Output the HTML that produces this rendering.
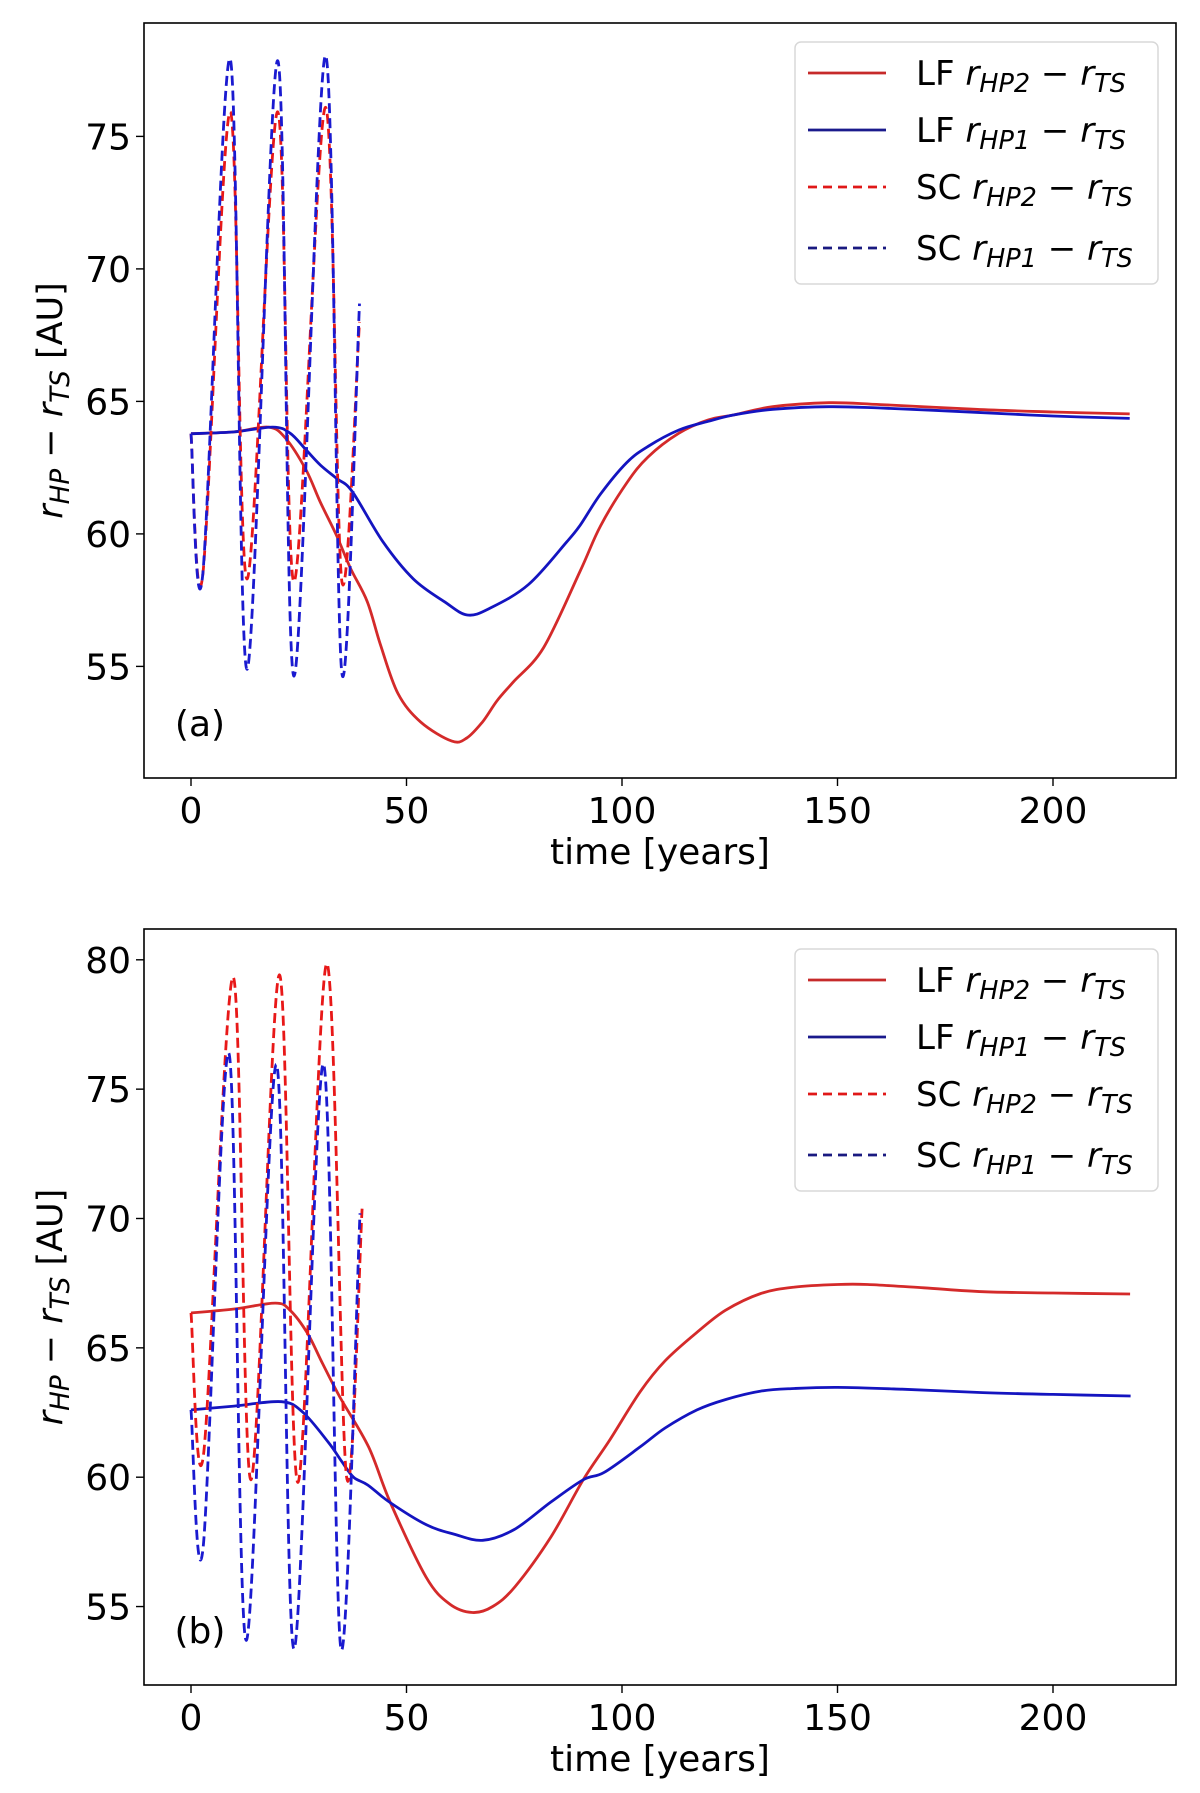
<!DOCTYPE html>
<html><head><meta charset="utf-8"><style>
html,body{margin:0;padding:0;background:#fff;}
svg{display:block;font-family:"DejaVu Sans","Liberation Sans",sans-serif;}
</style></head><body>
<svg id="fig" width="1200" height="1793" viewBox="0 0 1200 1793" xmlns="http://www.w3.org/2000/svg"></svg>
<script>
// ---- data (years, AU) ----
const xTicks = [0, 50, 100, 150, 200];
const yTicksA = [55, 60, 65, 70, 75];
const yTicksB = [55, 60, 65, 70, 75, 80];

const aLF2_t = [0, 10, 18, 22, 26.7, 30, 33.8, 37, 40.9, 44, 48, 53.3, 60.5, 64, 67.6, 71, 74.7, 81.8, 90.3, 95, 101.1, 106, 113.2, 120, 126, 135, 148, 160, 182, 200, 217.8];
const aLF2_v = [63.78, 63.85, 64.03, 63.6, 62.41, 61.2, 59.93, 58.7, 57.44, 55.8, 53.98, 52.9, 52.18, 52.3, 52.9, 53.7, 54.4, 55.71, 58.6, 60.3, 61.92, 62.9, 63.8, 64.3, 64.49, 64.8, 64.95, 64.88, 64.70, 64.6, 64.53];
const aLF1_t = [0, 10, 19, 23, 26.7, 30, 33.8, 37.4, 44.5, 51.6, 58.8, 64.1, 69.4, 78.3, 87.2, 90.3, 95, 101.1, 106, 113.2, 120, 126, 135, 148, 160, 182, 200, 217.8];
const aLF1_v = [63.78, 63.85, 64.03, 63.8, 63.17, 62.6, 62.09, 61.6, 59.71, 58.3, 57.44, 56.94, 57.2, 58.09, 59.7, 60.33, 61.5, 62.69, 63.3, 63.92, 64.25, 64.49, 64.7, 64.8, 64.75, 64.59, 64.45, 64.36];
const aSC2_t = [0, 2.7, 9.1, 13, 20.1, 23.9, 31.2, 35, 39.1];
const aSC2_v = [63.78, 58.4, 75.93, 58.3, 75.93, 58.2, 76.1, 58.2, 68.0];
const aSC1_t = [0, 2.7, 9.1, 13, 20.1, 23.9, 31.2, 35, 39.1];
const aSC1_v = [63.78, 58.41, 77.92, 54.89, 77.86, 54.63, 78.05, 54.74, 68.69];

const bLF2_t = [0, 10, 19.6, 23, 27, 30.5, 34.6, 41.2, 46.2, 54.5, 60, 65.3, 70, 75.2, 83.5, 91, 97, 104.2, 110, 117.4, 124, 132.2, 140, 150, 157, 170, 183.7, 200, 217.9];
const bLF2_v = [66.35, 66.5, 66.73, 66.45, 65.57, 64.4, 63.08, 61.17, 59.04, 56.15, 55.1, 54.77, 55.0, 55.77, 57.69, 59.9, 61.4, 63.3, 64.5, 65.6, 66.45, 67.1, 67.35, 67.45, 67.45, 67.32, 67.17, 67.12, 67.08];
const bLF1_t = [0, 10, 21, 26, 31.9, 35, 37.7, 41, 46, 54.5, 61, 67.7, 75, 83.5, 91, 95.9, 104.2, 110, 117.4, 124, 132.2, 140, 150, 165, 183.7, 200, 218];
const bLF1_v = [62.6, 62.75, 62.92, 62.5, 61.34, 60.6, 60.0, 59.7, 59.04, 58.17, 57.8, 57.56, 57.98, 59.04, 59.9, 60.19, 61.17, 61.9, 62.6, 63.0, 63.33, 63.43, 63.47, 63.4, 63.27, 63.2, 63.14];
const bSC2_t = [0, 2.9, 9.8, 13.9, 20.5, 24.8, 31.5, 36.1, 39.7];
const bSC2_v = [66.35, 60.87, 79.33, 59.9, 79.42, 59.8, 79.85, 60.0, 70.38];
const bSC1_t = [0, 2.8, 8.8, 12.8, 19.8, 23.9, 30.7, 34.8, 39.2];
const bSC1_v = [62.6, 57.27, 76.39, 53.69, 75.96, 53.36, 75.98, 53.36, 70.2];

// ---- layout ----
const NS = "http://www.w3.org/2000/svg";
const svg = document.getElementById('fig');
function mk(tag, attrs, parent) {
  const e = document.createElementNS(NS, tag);
  for (const k in attrs) e.setAttribute(k, attrs[k]);
  (parent || svg).appendChild(e);
  return e;
}
const panels = [
  {id:'a', top:23, bottom:778, v0:75, y0:136.4, ppu:26.5, yTicks:yTicksA,
   series:[[aLF2_t,aLF2_v,'#d42a2a',null,'lf-hp2-line'],[aLF1_t,aLF1_v,'#1414c0',null,'lf-hp1-line'],
           [aSC2_t,aSC2_v,'#e81818','10,5','sc-hp2-line'],[aSC1_t,aSC1_v,'#1a1ad0','10,5','sc-hp1-line']],
   legTop:42, label:'(a)', labelY:736, xlabY:864},
  {id:'b', top:929, bottom:1685, v0:80, y0:959.8, ppu:25.87, yTicks:yTicksB,
   series:[[bLF2_t,bLF2_v,'#d42a2a',null,'lf-hp2-line'],[bLF1_t,bLF1_v,'#1414c0',null,'lf-hp1-line'],
           [bSC2_t,bSC2_v,'#e81818','10,5','sc-hp2-line'],[bSC1_t,bSC1_v,'#1a1ad0','10,5','sc-hp1-line']],
   legTop:949, label:'(b)', labelY:1643, xlabY:1771}
];
const left = 144, right = 1176;
const xS = t => 191 + t * 4.31;

function pathD(ts, vs, yS) {
  const p = ts.map((t,i)=>[xS(t), yS(vs[i])]);
  let d = `M${p[0][0].toFixed(1)},${p[0][1].toFixed(1)}`;
  for (let i=0;i<p.length-1;i++){
    const p0=p[Math.max(0,i-1)], p1=p[i], p2=p[i+1], p3=p[Math.min(p.length-1,i+2)];
    const c1=[p1[0]+(p2[0]-p0[0])/6, p1[1]+(p2[1]-p0[1])/6];
    const c2=[p2[0]-(p3[0]-p1[0])/6, p2[1]-(p3[1]-p1[1])/6];
    d+=` C${c1[0].toFixed(1)},${c1[1].toFixed(1)} ${c2[0].toFixed(1)},${c2[1].toFixed(1)} ${p2[0].toFixed(1)},${p2[1].toFixed(1)}`;
  }
  return d;
}
function subText(parent, x, y, parts, size, attrs) {
  const t = mk('text', Object.assign({x:x, y:y, 'font-size':size, fill:'#000'}, attrs||{}), parent);
  parts.forEach(([s, kind])=>{
    const ts = mk('tspan', {}, t);
    ts.textContent = s;
    if (kind==='i') ts.setAttribute('font-style','italic');
    if (kind==='sub') { ts.setAttribute('font-style','italic'); ts.setAttribute('font-size', size*0.75); ts.setAttribute('dy', size*0.2); }
    if (kind==='up') { ts.setAttribute('dy', -size*0.2); }
  });
  return t;
}

panels.forEach(P=>{
  const yS = v => P.y0 + (P.v0 - v) * P.ppu;
  const g = mk('g', {});
  
  
  const clipId = 'clip'+P.id;
  const cp = mk('clipPath', {id:clipId}, g);
  mk('rect', {x:left, y:P.top, width:right-left, height:P.bottom-P.top}, cp);
  const sg = mk('g', {'clip-path':`url(#${clipId})`}, g);
  P.series.forEach(s=>{
    const path = mk('path', {d:pathD(s[0], s[1], yS), fill:'none', stroke:s[2], 'stroke-width':2.8, 'stroke-linejoin':'round'}, sg);
    if (s[3]) path.setAttribute('stroke-dasharray', s[3]);
    
    
  });
  const frame = mk('rect', {x:left, y:P.top, width:right-left, height:P.bottom-P.top, fill:'none', stroke:'#000', 'stroke-width':1.6}, g);
  
  
  xTicks.forEach(t=>{
    mk('line', {x1:xS(t), x2:xS(t), y1:P.bottom, y2:P.bottom+8, stroke:'#000', 'stroke-width':1.4}, g);
    const tx = mk('text', {x:xS(t), y:P.bottom+45, 'text-anchor':'middle', 'font-size':36, fill:'#000'}, g);
    tx.textContent = t;
    
    
  });
  P.yTicks.forEach(v=>{
    const y = yS(v);
    mk('line', {x1:left-8, x2:left, y1:y, y2:y, stroke:'#000', 'stroke-width':1.4}, g);
    const tx = mk('text', {x:left-13, y:y+13, 'text-anchor':'end', 'font-size':36, fill:'#000'}, g);
    tx.textContent = v;
    
    
  });
  const xl = mk('text', {x:660, y:P.xlabY, 'text-anchor':'middle', 'font-size':36, fill:'#000'}, g);
  xl.textContent = 'time [years]';
  
  
  const cy = (P.top + P.bottom)/2;
  const yl = subText(g, 0, 0, [['r','i'],['HP','sub'],[' − ','up'],['r','i'],['TS','sub'],[' [AU]','up']], 35,
    {'text-anchor':'middle', transform:`translate(62,${cy}) rotate(-90)`});
  
  
  const pl = mk('text', {x:200, y:P.labelY, 'text-anchor':'middle', 'font-size':36, fill:'#000'}, g);
  pl.textContent = P.label;
  
  
  // legend
  const lg = mk('g', {}, g);
  
  
  mk('rect', {x:795, y:P.legTop, width:363, height:242, rx:6, fill:'#fff', 'fill-opacity':0.85, stroke:'#d8d8d8', 'stroke-width':1.5}, lg);
  const labels = [['LF','HP2','#c62a2a',null],['LF','HP1','#1a1a8c',null],['SC','HP2','#e01818','9,6'],['SC','HP1','#1a1a80','9,6']];
  const offs = [31, 88, 145, 206];
  labels.forEach((L,i)=>{
    const y = P.legTop + offs[i];
    const e = mk('g', {}, lg);
    
    
    const ln = mk('line', {x1:808, x2:886, y1:y, y2:y, stroke:L[2], 'stroke-width':2.8}, e);
    if (L[3]) ln.setAttribute('stroke-dasharray', L[3]);
    subText(e, 916, y+12, [[L[0]+' ',''],['r','i'],[L[1],'sub'],[' − ','up'],['r','i'],['TS','sub']], 34);
  });
});
</script>
</body></html>
